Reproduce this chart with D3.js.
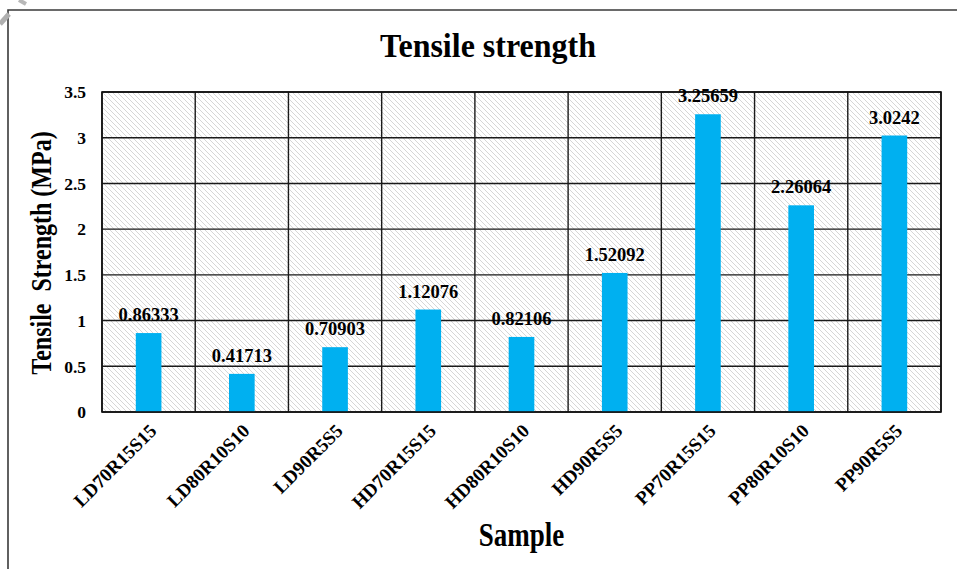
<!DOCTYPE html>
<html>
<head>
<meta charset="utf-8">
<script src="https://cdn.jsdelivr.net/npm/d3@7/dist/d3.min.js"></script>
<style>
  html, body { margin: 0; padding: 0; background: #fff; }
  svg { display: block; }
  text { font-family: "Liberation Serif", "Times New Roman", serif; font-weight: bold; fill: #000; }
</style>
</head>
<body>
<svg id="chart" width="957" height="569"></svg>
<script>
// Samples and their measured tensile strength (MPa)
const samples = ["LD70R15S15", "LD80R10S10", "LD90R5S5", "HD70R15S15", "HD80R10S10", "HD90R5S5", "PP70R15S15", "PP80R10S10", "PP90R5S5"];
const strength = [0.86333, 0.41713, 0.70903, 1.12076, 0.82106, 1.52092, 3.25659, 2.26064, 3.0242];
const strengthLabels = ["0.86333", "0.41713", "0.70903", "1.12076", "0.82106", "1.52092", "3.25659", "2.26064", "3.0242"];
const yTicks = [0, 0.5, 1, 1.5, 2, 2.5, 3, 3.5];
const yTickLabels = ["0", "0.5", "1", "1.5", "2", "2.5", "3", "3.5"];

const svg = d3.select("#chart");
const W = 957, H = 569;
const plot = { left: 102, right: 941, top: 92, bottom: 412 };

// outer frame of the chart area
svg.append("path")
  .attr("d", `M8,${H} L8,10 L${W},10`)
  .attr("fill", "none").attr("stroke", "#3a3a3a").attr("stroke-width", 1.6);

// small grey mark at the top-left corner
svg.append("path").attr("d", "M0,24 L9,14").attr("stroke", "#b0b0b0").attr("stroke-width", 5);
svg.append("path").attr("d", "M19,0 L26,4").attr("stroke", "#b8b8b8").attr("stroke-width", 4);

// diagonal hatch for the plot background
const defs = svg.append("defs");
const pat = defs.append("pattern")
  .attr("id", "hatch").attr("patternUnits", "userSpaceOnUse")
  .attr("width", 5).attr("height", 5);
pat.append("rect").attr("width", 5).attr("height", 5).attr("fill", "#fff");
pat.append("path").attr("d", "M-1,-1 L6,6 M-1,4 L1,6 M4,-1 L6,1")
  .attr("stroke", "#d6d6d6").attr("stroke-width", 1);

const x = d3.scaleBand().domain(samples).range([plot.left, plot.right]).paddingInner(0).paddingOuter(0);
const y = d3.scaleLinear().domain([0, 3.5]).range([plot.bottom, plot.top]);

svg.append("rect")
  .attr("x", plot.left).attr("y", plot.top)
  .attr("width", plot.right - plot.left).attr("height", plot.bottom - plot.top)
  .attr("fill", "url(#hatch)");

// horizontal gridlines
svg.append("g").selectAll("line").data(yTicks).join("line")
  .attr("x1", plot.left).attr("x2", plot.right)
  .attr("y1", d => y(d)).attr("y2", d => y(d))
  .attr("stroke", "#1a1a1a").attr("stroke-width", 1.4);

// vertical gridlines at category boundaries
const bounds = samples.map(s => x(s)).concat([plot.right]);
svg.append("g").selectAll("line").data(bounds).join("line")
  .attr("x1", d => d).attr("x2", d => d)
  .attr("y1", plot.top).attr("y2", plot.bottom)
  .attr("stroke", "#1a1a1a").attr("stroke-width", 1.4);

// bars
const barW = x.bandwidth() * 0.275;
svg.append("g").selectAll("rect").data(samples).join("rect")
  .attr("x", (d) => x(d) + x.bandwidth() / 2 - barW / 2)
  .attr("width", barW)
  .attr("y", (d, i) => y(strength[i]))
  .attr("height", (d, i) => y(0) - y(strength[i]))
  .attr("fill", "#00B0F0");

// plot border
svg.append("rect")
  .attr("x", plot.left).attr("y", plot.top)
  .attr("width", plot.right - plot.left).attr("height", plot.bottom - plot.top)
  .attr("fill", "none").attr("stroke", "#111").attr("stroke-width", 1.6);

// value labels
svg.append("g").selectAll("text").data(samples).join("text")
  .attr("x", d => x(d) + x.bandwidth() / 2)
  .attr("y", (d, i) => y(strength[i]) - 12)
  .attr("text-anchor", "middle")
  .attr("font-size", 18.5)
  .text((d, i) => strengthLabels[i]);

// y axis tick labels
const yAxis = d3.axisLeft(y).tickValues(yTicks).tickSize(0).tickPadding(16)
  .tickFormat((d, i) => yTickLabels[i]);
const gy = svg.append("g").attr("transform", `translate(${plot.left},0)`).call(yAxis);
gy.select(".domain").remove();
gy.selectAll("text")
  .attr("font-size", 17.5).attr("font-family", "Liberation Serif").attr("font-weight", "bold")
  .attr("dy", "0.33em");

// x axis tick labels, rotated
const xAxis = d3.axisBottom(x).tickSize(0).tickPadding(0);
const gx = svg.append("g").attr("transform", `translate(0,${plot.bottom})`).call(xAxis);
gx.select(".domain").remove();
gx.selectAll("text")
  .attr("font-size", 19).attr("font-family", "Liberation Serif").attr("font-weight", "bold")
  .attr("text-anchor", "end")
  .attr("dy", 0).attr("y", 0)
  .attr("transform", "translate(9,20) rotate(-45)");

// titles
svg.append("text")
  .attr("transform", "translate(488,57) scale(1,1.05)")
  .attr("text-anchor", "middle").attr("font-size", 32)
  .text("Tensile strength");

svg.append("text")
  .attr("transform", `translate(${(plot.left + plot.right) / 2},546) scale(1,1.25)`)
  .attr("text-anchor", "middle").attr("font-size", 27)
  .text("Sample");

svg.append("text")
  .attr("transform", `translate(51,${(plot.top + plot.bottom) / 2 + 1}) rotate(-90) scale(1,1.2)`)
  .attr("text-anchor", "middle").attr("font-size", 24)
  .style("white-space", "pre")
  .text("Tensile  Strength (MPa)");
</script>
</body>
</html>
